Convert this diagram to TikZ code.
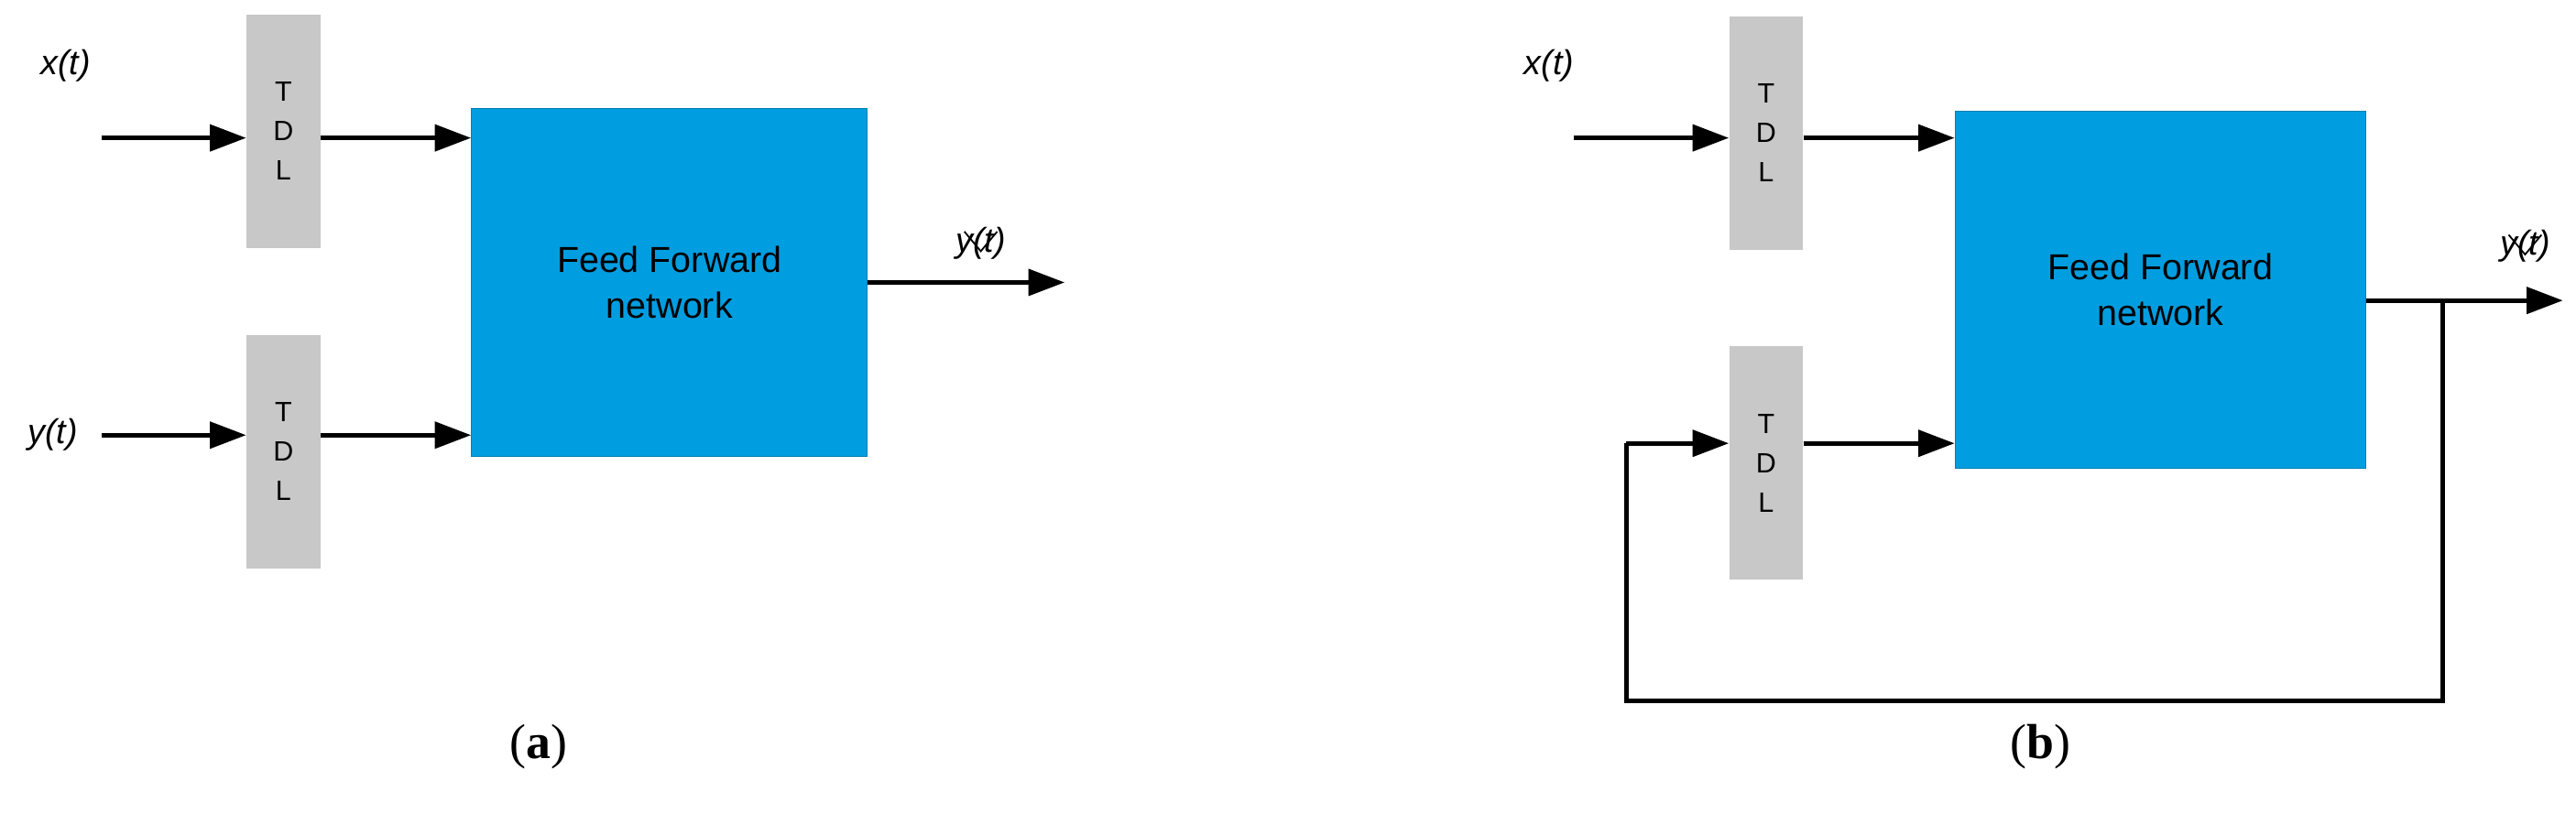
\documentclass[tikz,border=0pt]{standalone}
\usepackage{fontspec}
\setmainfont{Liberation Sans}
\newfontfamily\capfont{Liberation Serif}
\usetikzlibrary{arrows.meta}
\definecolor{ffblue}{HTML}{009EE0}
\definecolor{tdlgray}{HTML}{C8C8C8}
\begin{document}
\begin{tikzpicture}[x=1pt,y=-1pt,
  tdl/.style={fill=tdlgray,draw=none,minimum width=45pt,minimum height=142pt,inner sep=0pt,align=center,font=\fontsize{17}{24}\selectfont},
  ffn/.style={fill=ffblue,draw=ffblue!80!black,line width=0.6pt,inner sep=0pt,align=center,font=\fontsize{22}{28}\selectfont},
  sig/.style={font=\itshape\fontsize{21}{22}\selectfont,inner sep=1pt},
  conn/.style={line width=2.6pt,-{Triangle[length=22pt,width=16pt]}},
  wire/.style={line width=2.6pt},
  hat/.style={line width=1pt},
  captext/.style={font=\capfont\fontsize{30}{34}\selectfont}]
\useasboundingbox (0,0) rectangle (1568,508);
% (a)
\node[tdl] (ta1) at (172.5,80) {T\\D\\L};
\node[tdl] (ta2) at (172.5,275) {T\\D\\L};
\node[ffn,minimum width=241pt,minimum height=212pt] (fa) at (407.5,172) {Feed Forward\\network};
\node[sig] (xa) at (40,40) {x(t)};
\node[sig] (ya) at (32,265) {y(t)};
\coordinate (xas) at (62,84);
\coordinate (yas) at (62,265);
\coordinate (oa) at (648,172);
\draw[conn] (xas) -- (xas -| ta1.west);
\draw[conn] (ta1.east |- xas) -- (fa.west |- xas);
\draw[conn] (yas) -- (yas -| ta2.west);
\draw[conn] (ta2.east |- yas) -- (fa.west |- yas);
\draw[conn] (fa.east |- oa) -- (oa);
\node[sig] (yha) at (597,148) {y(t)};
\draw[hat] ([xshift=-10pt,yshift=-4pt]yha.north) -- ([yshift=-16pt]yha.north) -- ([xshift=10pt,yshift=-4pt]yha.north);
\node[captext] (ca) at (328,455) {(\textbf{a})};
% (b)
\node[tdl] (tb1) at (1075,81) {T\\D\\L};
\node[tdl] (tb2) at (1075,282) {T\\D\\L};
\node[ffn,minimum width=250pt,minimum height=217pt] (fb) at (1315,176.5) {Feed Forward\\network};
\node[sig] (xb) at (943,40) {x(t)};
\coordinate (xbs) at (958,84);
\coordinate (ybs) at (990,270);
\coordinate (ob) at (1560,183);
\coordinate (jb) at (1487,183);
\coordinate (bb) at (1487,427);
\coordinate (lb) at (990,427);
\draw[conn] (xbs) -- (xbs -| tb1.west);
\draw[conn] (tb1.east |- xbs) -- (fb.west |- xbs);
\draw[conn] (ybs) -- (ybs -| tb2.west);
\draw[conn] (tb2.east |- ybs) -- (fb.west |- ybs);
\draw[conn] (fb.east |- ob) -- (ob);
\draw[wire,line join=miter] (jb) -- (bb) -- (lb) -- (ybs);
\node[sig] (yhb) at (1537,150) {y(t)};
\draw[hat] ([xshift=-10pt,yshift=-4pt]yhb.north) -- ([yshift=-16pt]yhb.north) -- ([xshift=10pt,yshift=-4pt]yhb.north);
\node[captext] (cb) at (1242,455) {(\textbf{b})};
\end{tikzpicture}
\end{document}
